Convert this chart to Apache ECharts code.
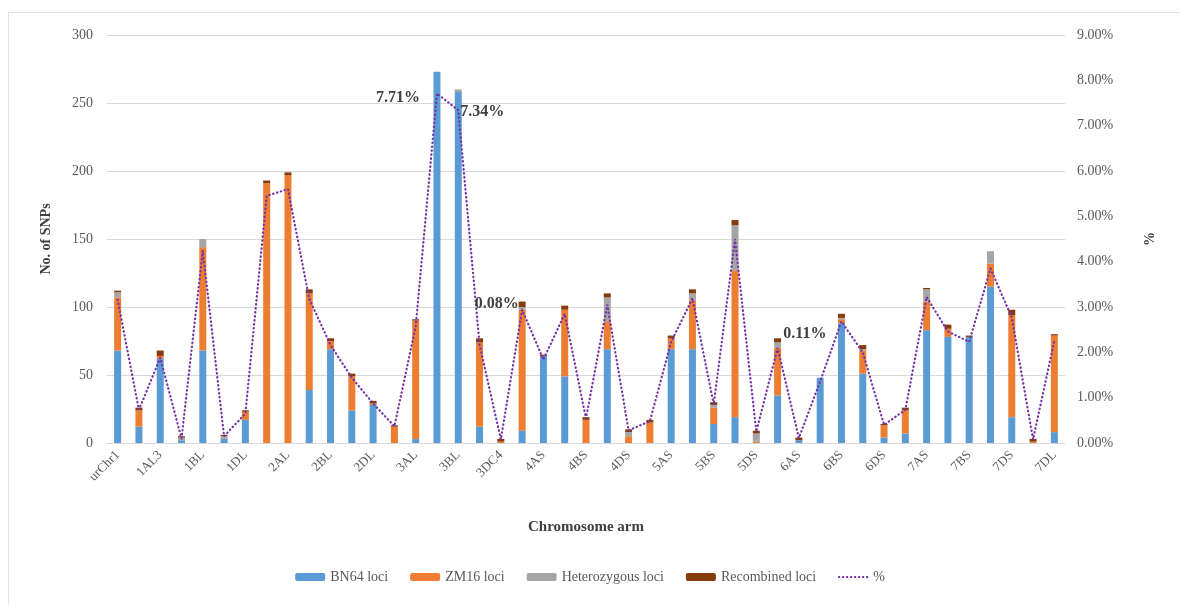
<!DOCTYPE html>
<html>
<head>
<meta charset="utf-8">
<script src="https://cdn.jsdelivr.net/npm/echarts@6/dist/echarts.min.js"></script>
<style>
	html, body { margin: 0; padding: 0; background: #fff; }
	#frame { position: absolute; left: 8px; top: 12px; width: 1172px; height: 600px; border-top: 1px solid #e2e2e2; border-left: 1px solid #e2e2e2; box-sizing: border-box; }
	#chart { position: absolute; left: 0; top: 0; width: 1180px; height: 605px; }
</style>
</head>
<body>
<div id="frame"></div>
<div id="chart"></div>
<script>
	// chromosome arms (every other one is labelled on the axis)
	var arms = ['urChr1','1AL','1AL3','1AS','1BL','1BS','1DL','1DS','2AL','2AS',
		'2BL','2BS','2DL','2DS','3AL','3AS','3BL','3BS','3DC4','3DS',
		'4AS','4AL','4BS','4BL','4DS','4DL','5AS','5AL','5BS','5BL',
		'5DS','5DL','6AS','6AL','6BS','6BL','6DS','6DL','7AS','7AL',
		'7BS','7BL','7DS','7DC','7DL'];

	var bn64 = [68,12,62,2,68,3,17,0,0,39, 69,24,28,0,3,273,258,12,0,9,
		64,49,0,69,0,0,69,69,14,19, 0,35,2,48,88,51,4,7,83,78, 78,115,19,0,8];
	var zm16 = [39,12,2,0,76,0,6,191,197,71, 6,25,1,12,87,0,0,62,1,89,
		0,49,17,20,5,15,8,36,12,108, 1,35,0,0,3,17,9,17,21,6, 0,17,75,1,71];
	var hetero = [4,0,0,2,6,2,0,0,0,0, 0,0,0,0,0,0,2,0,0,2,
		0,0,0,18,3,0,0,5,2,33, 6,4,0,0,1,1,0,0,9,0, 0,9,0,0,0];
	var recomb = [1,2,4,1,0,1,1,2,2,3, 2,2,2,1,1,0,0,3,2,4,
		1,3,2,3,2,2,2,3,2,4, 2,3,2,0,3,3,1,2,1,3, 1,0,4,2,1];
	var pct = [3.16,0.73,1.88,0.10,4.24,0.15,0.65,5.45,5.60,3.18,
		2.16,1.44,0.87,0.37,2.57,7.71,7.34,2.17,0.08,2.94,
		1.84,2.85,0.54,3.05,0.28,0.48,2.23,3.19,0.85,4.50,
		0.25,2.10,0.11,1.36,2.68,2.00,0.40,0.73,3.22,2.46,
		2.23,3.85,2.77,0.08,2.26];

	var yLeftTicks = [0, 300, 50];   // min, max, step
	var yRightTicks = [0, 9, 1];     // %

	var serif = '"Liberation Serif", "DejaVu Serif", serif';
	var lineColor = '#7434a8';

	// where a few of the % values carry a label
	var pctLabels = {
		15: {position: 'left', offset: [-12, 4]},
		16: {position: 'right', offset: [-3, 2]},
		18: {position: 'top', offset: [-4, -123]},
		32: {position: 'top', offset: [6, -91]}
	};

	function pctData() {
		var out = [];
		for (var i = 0; i < pct.length; i++) {
			var item = {value: pct[i]};
			if (pctLabels[i]) {
				item.label = {
					show: true,
					position: pctLabels[i].position,
					offset: pctLabels[i].offset,
					fontFamily: serif,
					fontWeight: 'bold',
					fontSize: 16,
					color: '#404040'
				};
			}
			out.push(item);
		}
		return out;
	}

	function barSeries(name, data, color) {
		return {
			name: name,
			type: 'bar',
			stack: 'loci',
			barWidth: 7,
			data: data,
			itemStyle: {color: color}
		};
	}

	// legend icon for the dotted % line
	var dotIcon = 'path://M0,0 L30,0 L30,0.01 Z M0,3 L2,3 L2,5 L0,5 Z M4,3 L6,3 L6,5 L4,5 Z M8,3 L10,3 L10,5 L8,5 Z M12,3 L14,3 L14,5 L12,5 Z M16,3 L18,3 L18,5 L16,5 Z M20,3 L22,3 L22,5 L20,5 Z M24,3 L26,3 L26,5 L24,5 Z M28,3 L30,3 L30,5 L28,5 Z M0,8 L30,8 L30,7.99 Z';

	var myChart = echarts.init(document.getElementById('chart'));
	var option = {
		animation: false,
		textStyle: {fontFamily: serif},
		grid: {left: 107, right: 115, top: 35, bottom: 162},
		legend: {
			bottom: 16,
			left: 'center',
			itemWidth: 30,
			itemHeight: 8,
			itemGap: 22,
			textStyle: {fontFamily: serif, fontSize: 14, color: '#595959'},
			data: ['BN64 loci','ZM16 loci','Heterozygous loci','Recombined loci',
				{name: '%', icon: dotIcon, itemStyle: {color: lineColor}}]
		},
		xAxis: {
			type: 'category',
			data: arms,
			name: 'Chromosome arm',
			nameLocation: 'middle',
			nameGap: 77,
			nameTextStyle: {fontFamily: serif, fontSize: 15, fontWeight: 'bold', color: '#404040'},
			axisLine: {lineStyle: {color: '#d9d9d9'}},
			axisTick: {show: false},
			axisLabel: {interval: 1, rotate: 45, fontFamily: serif, fontSize: 13, color: '#595959', margin: 10}
		},
		yAxis: [
			{
				type: 'value',
				min: yLeftTicks[0], max: yLeftTicks[1], interval: yLeftTicks[2],
				name: 'No. of SNPs',
				nameLocation: 'middle',
				nameRotate: 90,
				nameGap: 54,
				nameTextStyle: {fontFamily: serif, fontSize: 14, fontWeight: 'bold', color: '#404040'},
				axisLine: {show: false},
				axisTick: {show: false},
				axisLabel: {fontFamily: serif, fontSize: 14, color: '#595959', margin: 14},
				splitLine: {lineStyle: {color: '#d9d9d9'}}
			},
			{
				type: 'value',
				min: yRightTicks[0], max: yRightTicks[1], interval: yRightTicks[2],
				name: '%',
				nameLocation: 'middle',
				nameRotate: 90,
				nameGap: 78,
				nameTextStyle: {fontFamily: serif, fontSize: 14, fontWeight: 'bold', color: '#404040'},
				axisLine: {show: false},
				axisTick: {show: false},
				axisLabel: {
					fontFamily: serif, fontSize: 14, color: '#595959', margin: 12,
					formatter: function(v){ return v.toFixed(2) + '%'; }
				},
				splitLine: {show: false}
			}
		],
		series: [
			barSeries('BN64 loci', bn64, '#5B9BD5'),
			barSeries('ZM16 loci', zm16, '#ED7D31'),
			barSeries('Heterozygous loci', hetero, '#A5A5A5'),
			barSeries('Recombined loci', recomb, '#843C0C'),
			{
				name: '%',
				type: 'line',
				yAxisIndex: 1,
				symbol: 'circle',
				symbolSize: 0,
				showSymbol: true,
				data: pctData(),
				label: {
					formatter: function(p){ return p.value.toFixed(2) + '%'; }
				},
				itemStyle: {color: lineColor},
				lineStyle: {color: lineColor, width: 2.2, type: [0.5, 3.5], cap: 'round'},
				z: 5
			}
		]
	};
	myChart.setOption(option);
</script>
</body>
</html>
